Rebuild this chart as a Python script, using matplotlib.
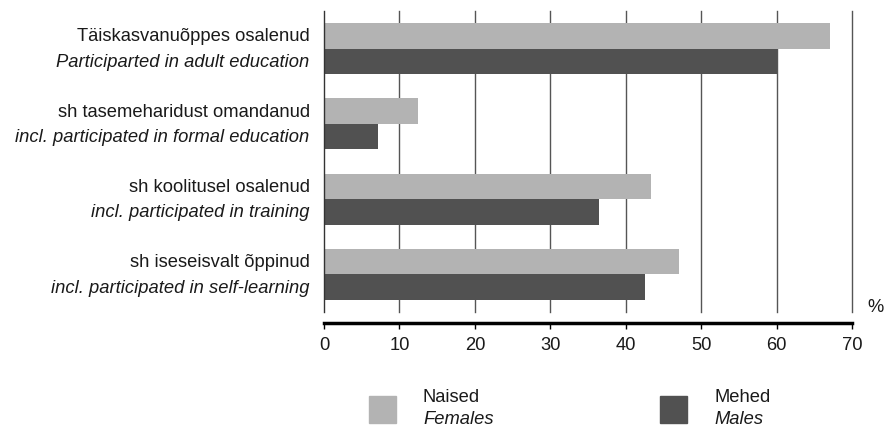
import matplotlib.pyplot as plt
import matplotlib.patches as mpatches
import matplotlib.transforms as mtransforms
import numpy as np

plt.rcParams['font.family'] = ['Liberation Sans', 'DejaVu Sans']

labels_et = ['Täiskasvanuõppes osalenud', 'sh tasemeharidust omandanud',
             'sh koolitusel osalenud', 'sh iseseisvalt õppinud']
labels_en = ['Participarted in adult education', 'incl. participated in formal education',
             'incl. participated in training', 'incl. participated in self-learning']
females = [67.1, 12.5, 43.4, 47.1]
males = [60.1, 7.1, 36.4, 42.6]
xticks = [0, 10, 20, 30, 40, 50, 60, 70]

c_f = '#b3b3b3'
c_m = '#515151'
fs = 13.2

fig = plt.figure(figsize=(8.85, 4.27), dpi=100)
ax = fig.add_axes([324 / 885, 1 - 313 / 427, 528 / 885, 301 / 427])

y = np.arange(len(labels_et))
h = 0.34
ax.barh(y - h / 2, females, height=h, color=c_f, zorder=2)
ax.barh(y + h / 2, males, height=h, color=c_m, zorder=2)

ax.set_xlim(0, 70)
ax.set_ylim(len(y) - 0.5, -0.5)
ax.set_xticks(xticks)
ax.set_yticks([])
for xv in xticks[1:]:
    ax.axvline(xv, color='#555555', lw=1.0, zorder=1, clip_on=False)

for s in ['top', 'right']:
    ax.spines[s].set_visible(False)
ax.spines['left'].set_color('#333333')
ax.spines['left'].set_linewidth(1.0)
ax.spines['bottom'].set_position(('outward', 8))
ax.spines['bottom'].set_linewidth(2.5)
ax.tick_params(axis='x', direction='out', length=4, width=1, labelsize=fs, pad=5,
               labelcolor='#1a1a1a')

trans = mtransforms.blended_transform_factory(ax.transAxes, ax.transData)
for i in range(len(y)):
    ax.text(-0.027, y[i] - h / 2, labels_et[i], transform=trans, ha='right', va='center',
            fontsize=fs, color='#1a1a1a')
    ax.text(-0.027, y[i] + h / 2, labels_en[i], transform=trans, ha='right', va='center',
            fontsize=fs, style='italic', color='#1a1a1a')

fig.text(876 / 885, 1 - 307 / 427, '%', ha='center', va='center', fontsize=fs, color='#1a1a1a')

# legend
for x0, col, t1, t2 in [(369, c_f, 'Naised', 'Females'), (660, c_m, 'Mehed', 'Males')]:
    fig.add_artist(mpatches.Rectangle((x0 / 885, 1 - 424 / 427), 27 / 885, 27 / 427,
                                      transform=fig.transFigure, color=col))
    fig.text((x0 + 54) / 885, 1 - 398 / 427, t1, ha='left', va='center', fontsize=fs, color='#1a1a1a')
    fig.text((x0 + 54) / 885, 1 - 420 / 427, t2, ha='left', va='center', fontsize=fs,
             style='italic', color='#1a1a1a')

fig.savefig('out.png', dpi=100)
